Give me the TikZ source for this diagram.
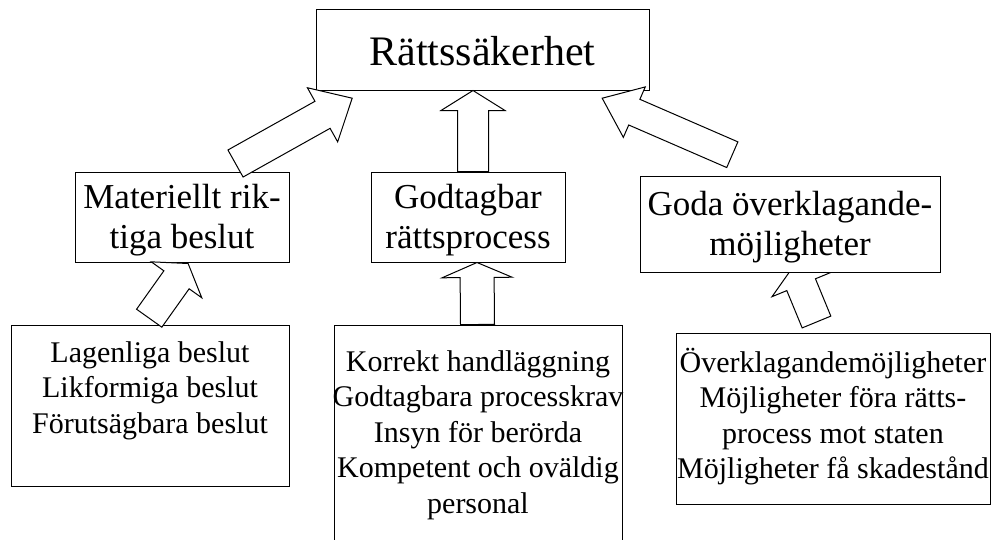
\documentclass[tikz,border=0pt]{standalone}
\usepackage{fontspec}
\setmainfont{Liberation Serif}
\usetikzlibrary{calc,backgrounds}

\tikzset{
  frame/.style={draw, line width=1pt, fill=white, inner sep=0pt, align=center},
  bigtext/.style={font=\fontsize{42}{48}\selectfont},
  midtext/.style={font=\fontsize{35}{40}\selectfont, align=center, inner sep=0pt},
  smalltext/.style={font=\fontsize{30}{35.5}\selectfont, align=center, inner sep=0pt, anchor=north},
  blockarrow/.style={draw, line width=1pt, fill=white, line join=miter},
}

% Hollow block arrow from coordinate (#1t) to tip (#1h):
% #2 shaft width, #3 head width, #4 head length
\newcommand\blockarrow[4]{%
  \coordinate (#1s) at ($(#1h)!#4!(#1t)$);
  \draw[blockarrow]
    ($(#1t)!#2/2!90:(#1h)$) -- ($(#1s)!#2/2!-90:(#1t)$) -- ($(#1s)!#3/2!-90:(#1t)$)
    -- (#1h) -- ($(#1s)!#3/2!90:(#1t)$) -- ($(#1s)!#2/2!90:(#1t)$)
    -- ($(#1t)!#2/2!-90:(#1h)$) -- cycle;
}

\begin{document}
\begin{tikzpicture}[x=1pt, y=-1pt]
  \useasboundingbox (0,0) rectangle (991,539);
  \clip (0,0) rectangle (991,539);

  % top level
  \node[frame, bigtext, minimum width=333pt, minimum height=81pt] (T) at (482.5,49.5) {};
  \node[bigtext, inner sep=0pt] (Tt) at ($(T.center)+(0,1.5)$) {Rättssäkerhet};

  % middle level
  \node[frame, minimum width=214pt, minimum height=90pt] (m1) at (182,217) {};
  \node[frame, minimum width=194pt, minimum height=90pt] (m2) at (468,217) {};
  \node[frame, minimum width=300pt, minimum height=96pt] (m3) at (790,224) {};
  \node[midtext] (m1t) at ($(m1.center)+(0,3.5)$) {Materiellt rik-\\tiga beslut};
  \node[midtext] (m2t) at ($(m2.center)+(0,3.5)$) {Godtagbar\\rättsprocess};
  \node[midtext] (m3t) at ($(m3.center)+(0,3.5)$) {Goda överklagande-\\möjligheter};

  % bottom level
  \node[frame, minimum width=278pt, minimum height=161pt] (b1) at (150,405.5) {};
  \node[frame, minimum width=288pt, minimum height=235pt] (b2) at (478,442.5) {};
  \node[frame, minimum width=314pt, minimum height=171pt] (b3) at (833,418.5) {};

  \node[smalltext] (b1t) at ($(b1.north)+(0,16.5)$)
    {Lagenliga beslut\\Likformiga beslut\\Förutsägbara beslut};
  \node[smalltext] (b2t) at ($(b2.north)+(0,25.5)$)
    {Korrekt handläggning\\Godtagbara processkrav\\Insyn för berörda\\Kompetent och oväldig\\personal};
  \node[smalltext] (b3t) at ($(b3.north)+(0,15)$)
    {Överklagandemöjligheter\\Möjligheter föra rätts-\\process mot staten\\Möjligheter få skadestånd};

  % arrow ends, attached to the boxes
  \coordinate (at) at ($(m1.north east)+(-54,-8)$);
  \coordinate (ah) at ($(T.south west)+(36.7,7.7)$);
  \coordinate (bt) at ($(m2.north west)+(102.5,0)$);
  \coordinate (bh) at ($(T.south west)+(157.5,0)$);
  \coordinate (ct) at ($(m3.north west)+(92.8,-20.8)$);
  \coordinate (ch) at ($(T.south east)+(-47.3,7.7)$);
  \coordinate (dt) at ($(b1.north west)+(138.7,-6.3)$);
  \coordinate (dh) at ($(m1.south west)+(113.6,1)$);
  \coordinate (et) at ($(b2.north west)+(144,0)$);
  \coordinate (eh) at ($(m2.south west)+(106.5,0)$);
  \coordinate (ft) at ($(b3.north west)+(141,-10.5)$);
  \coordinate (fh) at ($(m3.south west)+(154,-6.3)$);

  \blockarrow{a}{31pt}{62pt}{34pt}
  \blockarrow{b}{31pt}{64pt}{20pt}
  \blockarrow{c}{28pt}{55pt}{35pt}
  \blockarrow{d}{31pt}{62pt}{20pt}
  \blockarrow{e}{34pt}{70pt}{15pt}
  % this one passes behind the box it points at
  \begin{pgfonlayer}{background}
    \blockarrow{f}{31pt}{63pt}{20pt}
  \end{pgfonlayer}
\end{tikzpicture}
\end{document}
